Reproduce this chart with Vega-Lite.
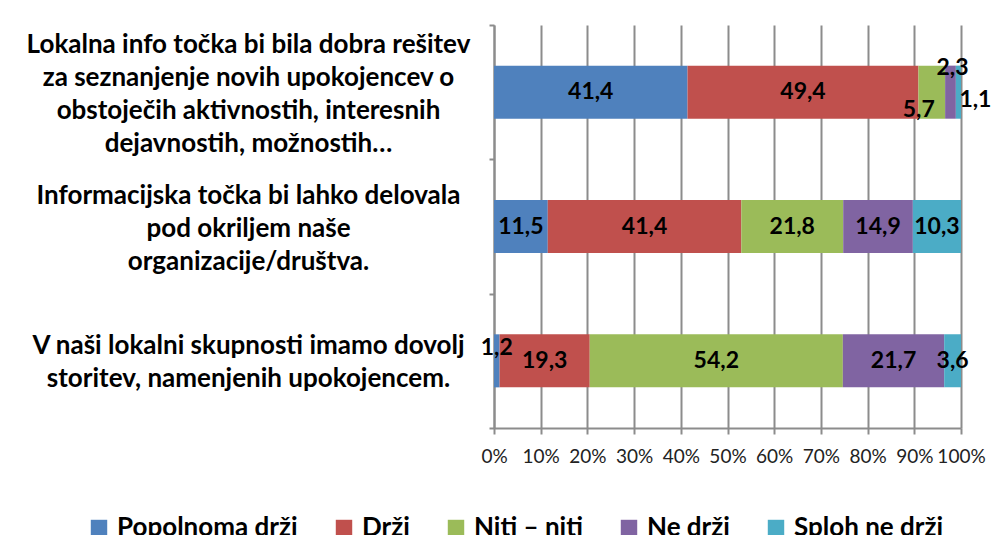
{
  "$schema": "https://vega.github.io/schema/vega-lite/v6.json",
  "width": 467,
  "height": 403,
  "autosize": "none",
  "padding": {"left": 494, "top": 25, "right": 33, "bottom": 107},
  "background": "white",
  "config": {
    "locale": {"number": {"decimal": ",", "thousands": ".", "grouping": [3], "currency": ["", " €"]}},
    "view": {"stroke": null},
    "font": "Lato"
  },
  "data": {
    "values": [
      {"q": "Lokalna info točka bi bila dobra rešitev\nza seznanjenje novih upokojencev o\nobstoječih aktivnostih, interesnih\ndejavnostih, možnostih…", "a": "Popolnoma drži", "level": 1, "v": 41.4},
      {"q": "Lokalna info točka bi bila dobra rešitev\nza seznanjenje novih upokojencev o\nobstoječih aktivnostih, interesnih\ndejavnostih, možnostih…", "a": "Drži", "level": 2, "v": 49.4},
      {"q": "Lokalna info točka bi bila dobra rešitev\nza seznanjenje novih upokojencev o\nobstoječih aktivnostih, interesnih\ndejavnostih, možnostih…", "a": "Niti – niti", "level": 3, "v": 5.7},
      {"q": "Lokalna info točka bi bila dobra rešitev\nza seznanjenje novih upokojencev o\nobstoječih aktivnostih, interesnih\ndejavnostih, možnostih…", "a": "Ne drži", "level": 4, "v": 2.3},
      {"q": "Lokalna info točka bi bila dobra rešitev\nza seznanjenje novih upokojencev o\nobstoječih aktivnostih, interesnih\ndejavnostih, možnostih…", "a": "Sploh ne drži", "level": 5, "v": 1.1},
      {"q": "Informacijska točka bi lahko delovala\npod okriljem naše\norganizacije/društva.", "a": "Popolnoma drži", "level": 1, "v": 11.5},
      {"q": "Informacijska točka bi lahko delovala\npod okriljem naše\norganizacije/društva.", "a": "Drži", "level": 2, "v": 41.4},
      {"q": "Informacijska točka bi lahko delovala\npod okriljem naše\norganizacije/društva.", "a": "Niti – niti", "level": 3, "v": 21.8},
      {"q": "Informacijska točka bi lahko delovala\npod okriljem naše\norganizacije/društva.", "a": "Ne drži", "level": 4, "v": 14.9},
      {"q": "Informacijska točka bi lahko delovala\npod okriljem naše\norganizacije/društva.", "a": "Sploh ne drži", "level": 5, "v": 10.3},
      {"q": "V naši lokalni skupnosti imamo dovolj\nstoritev, namenjenih upokojencem.", "a": "Popolnoma drži", "level": 1, "v": 1.2},
      {"q": "V naši lokalni skupnosti imamo dovolj\nstoritev, namenjenih upokojencem.", "a": "Drži", "level": 2, "v": 19.3},
      {"q": "V naši lokalni skupnosti imamo dovolj\nstoritev, namenjenih upokojencem.", "a": "Niti – niti", "level": 3, "v": 54.2},
      {"q": "V naši lokalni skupnosti imamo dovolj\nstoritev, namenjenih upokojencem.", "a": "Ne drži", "level": 4, "v": 21.7},
      {"q": "V naši lokalni skupnosti imamo dovolj\nstoritev, namenjenih upokojencem.", "a": "Sploh ne drži", "level": 5, "v": 3.6}
    ]
  },
  "encoding": {
    "y": {
      "field": "q",
      "type": "nominal",
      "sort": null,
      "scale": {"paddingInner": 0, "paddingOuter": 0},
      "axis": {
        "title": null,
        "labelExpr": "split(slice('\u2800\\n\u2800\\n', 0, 2 * (4 - length(split(datum.label, '\\n')))) + join(split(datum.label, '\\n'), '\\n\u2800\\n'), '\\n')",
        "labelAlign": "center",
        "labelBaseline": "middle",
        "labelPadding": 241,
        "labelLimit": 0,
        "labelFont": "Lato",
        "labelFontSize": 26,
        "labelFontWeight": "bold",
        "labelLineHeight": 16.5,
        "labelColor": "black",
        "labelOffset": -48,
        "tickBand": "extent",
        "tickSize": 5,
        "tickColor": "#8c8c8c",
        "tickWidth": 2,
        "domainColor": "#8c8c8c",
        "domainWidth": 2
      }
    },
    "x": {
      "field": "v",
      "type": "quantitative",
      "stack": "normalize",
      "axis": {
        "title": null,
        "values": [0, 0.1, 0.2, 0.3, 0.4, 0.5, 0.6, 0.7, 0.8, 0.9, 1],
        "format": "%",
        "grid": true,
        "gridColor": "#8c8c8c",
        "gridWidth": 2,
        "domainColor": "#8c8c8c",
        "domainWidth": 2,
        "tickColor": "#8c8c8c",
        "tickWidth": 2,
        "tickSize": 6,
        "labelFont": "Lato",
        "labelFontSize": 19,
        "labelColor": "#222222",
        "labelPadding": 13,
        "labelFlush": false,
        "labelOverlap": false
      }
    },
    "order": {"field": "level", "type": "quantitative"}
  },
  "layer": [
    {
      "mark": {"type": "bar", "height": {"band": 0.395}},
      "encoding": {
        "color": {
          "field": "a",
          "type": "nominal",
          "scale": {
            "domain": ["Popolnoma drži", "Drži", "Niti – niti", "Ne drži", "Sploh ne drži"],
            "range": ["#4F81BD", "#C0504D", "#9BBB59", "#8064A2", "#4BACC6"]
          },
          "legend": {
            "title": null,
            "orient": "none",
            "direction": "horizontal",
            "legendX": -408,
            "legendY": 490,
            "symbolType": "square",
            "symbolSize": 270,
            "symbolStrokeWidth": 0,
            "labelFont": "Lato",
            "labelFontSize": 26,
            "labelFontWeight": "bold",
            "labelColor": "black",
            "labelLimit": 0,
            "columnPadding": 33,
            "labelOffset": 5
          }
        }
      }
    },
    {
      "mark": {"type": "text", "font": "Lato", "fontSize": 23, "fontWeight": "bold", "color": "black"},
      "encoding": {
        "x": {"field": "v", "type": "quantitative", "stack": "normalize", "bandPosition": 0.5},
        "detail": {"field": "a"},
        "text": {"condition": {"test": "datum.v !== 2.3 && datum.v !== 5.7 && datum.v !== 1.1 && datum.v !== 1.2", "field": "v", "format": ".1f"}, "value": ""}
      }
    },
    {
      "mark": {"type": "text", "font": "Lato", "fontSize": 23, "fontWeight": "bold", "color": "black", "dx": 2, "dy": -24},
      "encoding": {
        "x": {"field": "v", "type": "quantitative", "stack": "normalize", "bandPosition": 0.5},
        "detail": {"field": "a"},
        "text": {"condition": {"test": "datum.v === 2.3", "field": "v", "format": ".1f"}, "value": ""}
      }
    },
    {
      "mark": {"type": "text", "font": "Lato", "fontSize": 23, "fontWeight": "bold", "color": "black", "dx": -13, "dy": 18},
      "encoding": {
        "x": {"field": "v", "type": "quantitative", "stack": "normalize", "bandPosition": 0.5},
        "detail": {"field": "a"},
        "text": {"condition": {"test": "datum.v === 5.7", "field": "v", "format": ".1f"}, "value": ""}
      }
    },
    {
      "mark": {"type": "text", "font": "Lato", "fontSize": 23, "fontWeight": "bold", "color": "black", "dx": 17, "dy": 8},
      "encoding": {
        "x": {"field": "v", "type": "quantitative", "stack": "normalize", "bandPosition": 0.5},
        "detail": {"field": "a"},
        "text": {"condition": {"test": "datum.v === 1.1", "field": "v", "format": ".1f"}, "value": ""}
      }
    },
    {
      "mark": {"type": "text", "font": "Lato", "fontSize": 23, "fontWeight": "bold", "color": "black", "dx": 0, "dy": -13},
      "encoding": {
        "x": {"field": "v", "type": "quantitative", "stack": "normalize", "bandPosition": 0.5},
        "detail": {"field": "a"},
        "text": {"condition": {"test": "datum.v === 1.2", "field": "v", "format": ".1f"}, "value": ""}
      }
    }
  ]
}
